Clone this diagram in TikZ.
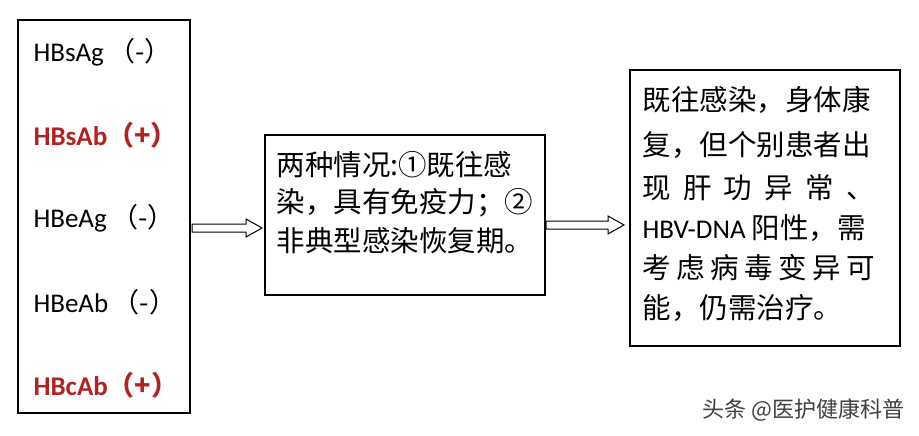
\documentclass[tikz,border=0pt]{standalone}
\usepackage{fontspec}
\setmainfont{Carlito}
\newfontfamily\cjk{Noto Sans CJK SC}
\definecolor{redt}{HTML}{B22222}
\begin{document}
\begin{tikzpicture}[x=1pt,y=-1pt,
  box/.style={draw,line width=1.2pt},
  lab/.style={anchor=west,font=\fontsize{27}{30}\selectfont},
  labb/.style={anchor=west,text=redt,font=\fontsize{27}{30}\selectfont\bfseries},
  txt/.style={anchor=west,font=\fontsize{28.5}{32}\selectfont\cjk},
  arr/.style={draw,line width=1pt,fill=white}]
\useasboundingbox (0,0) rectangle (919,436);
\draw[box] (18,20) rectangle (190,413);
\draw[box] (265,135) rectangle (545,295);
\draw[box] (630,70) rectangle (900,346);
\node[lab] (a1) at (30,52) {HBsAg\,\cjk{（}-\cjk{）}};
\node[labb] (a2) at (30,135) {HBsAb\cjk{（}+\cjk{）}};
\node[lab] (a3) at (30,218) {HBeAg\,\cjk{（}-\cjk{）}};
\node[lab] (a4) at (30,302) {HBeAb\,\cjk{（}-\cjk{）}};
\node[labb] (a5) at (30,385) {HBcAb\cjk{（}+\cjk{）}};
\node[txt] (m1) at (273,165) {两种情况:①既往感};
\node[txt] (m2) at (273,203) {染，具有免疫力；②};
\node[txt] (m3) at (273,241) {非典型感染恢复期。};
\node[txt] (r1) at (639,100) {既往感染，身体康};
\node[txt] (r2) at (639,145) {复，但个别患者出};
\node[txt] (r3) at (639,188) {\makebox[232pt][s]{现\hfill 肝\hfill 功\hfill 异\hfill 常\hfill 、}};
\node[lab] (r4) at (639,228) {HBV-DNA \cjk{\fontsize{28.5}{32}\selectfont 阳性，需}};
\node[txt] (r5) at (639,268) {\makebox[232pt][s]{考\hfill 虑\hfill 病\hfill 毒\hfill 变\hfill 异\hfill 可}};
\node[txt] (r6) at (639,308) {能，仍需治疗。};
\coordinate (s1) at (192,228);
\coordinate (s2) at (546,225);
\draw[arr] (s1) ++(0,-4) -- ++(54,0) -- ++(0,-5) -- ++(16,9) -- ++(-16,9) -- ++(0,-5) -- ++(-54,0) -- cycle;
\draw[arr] (s2) ++(0,-4) -- ++(62,0) -- ++(0,-5) -- ++(16,9) -- ++(-16,9) -- ++(0,-5) -- ++(-62,0) -- cycle;
\node[anchor=east,text=black!75,font=\fontsize{22}{24}\selectfont\cjk] (wm) at (908,410) {头条 @医护健康科普};
\end{tikzpicture}
\end{document}
